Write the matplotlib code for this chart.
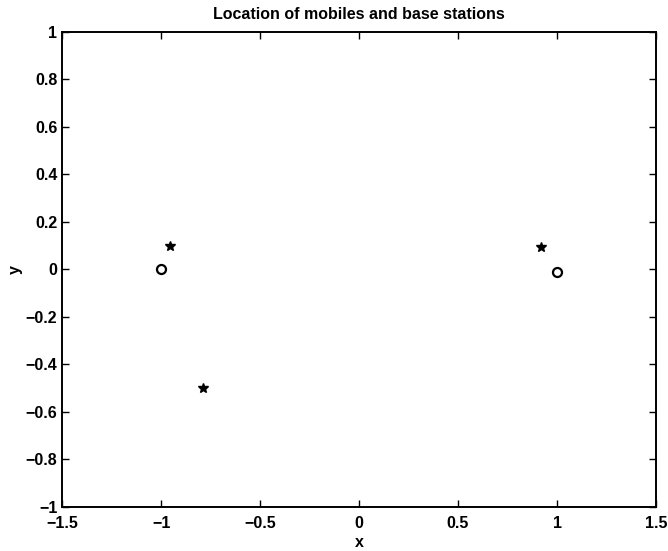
import numpy as np
import matplotlib
matplotlib.use('Agg')
import matplotlib.pyplot as plt

# base stations (circles) and mobiles (stars)
base_x = [-1.0, 1.0]
base_y = [0.0, -0.01]
mob_x = [-0.955, -0.79, 0.92]
mob_y = [0.10, -0.50, 0.095]

xticks = [-1.5, -1, -0.5, 0, 0.5, 1, 1.5]
yticks = [-1, -0.8, -0.6, -0.4, -0.2, 0, 0.2, 0.4, 0.6, 0.8, 1]

plt.rcParams['font.family'] = ['Liberation Sans', 'DejaVu Sans']
plt.rcParams['font.weight'] = 'bold'

fig = plt.figure(figsize=(6.68, 5.51), dpi=100)
ax = fig.add_axes([0.093, 0.080, 0.889, 0.862])

ax.plot(mob_x, mob_y, '*', color='black', markersize=7, linestyle='none')
ax.plot(base_x, base_y, 'o', markerfacecolor='white', markeredgecolor='black',
        markeredgewidth=1.6, markersize=6.5, linestyle='none')

ax.set_xlim(-1.5, 1.5)
ax.set_ylim(-1, 1)
ax.set_xticks(xticks)
ax.set_yticks(yticks)
ax.set_xticklabels(['\u22121.5', '\u22121', '\u22120.5', '0', '0.5', '1', '1.5'])
ax.set_yticklabels(['\u22121', '\u22120.8', '\u22120.6', '\u22120.4', '\u22120.2', '0',
                    '0.2', '0.4', '0.6', '0.8', '1'])
ax.tick_params(axis='both', direction='in', top=True, right=True, length=5,
               width=1, labelsize=11.5)
ax.tick_params(axis='x', pad=6.5)
ax.tick_params(axis='y', pad=3.5)
for s in ax.spines.values():
    s.set_linewidth(1.4)

ax.set_title('Location of mobiles and base stations', fontsize=11.5,
             fontweight='bold', pad=9)
ax.set_xlabel('x', fontsize=11.5, fontweight='bold', labelpad=3)
ax.set_ylabel('y', fontsize=11.5, fontweight='bold', labelpad=2)

fig.savefig('out.png', dpi=100)
